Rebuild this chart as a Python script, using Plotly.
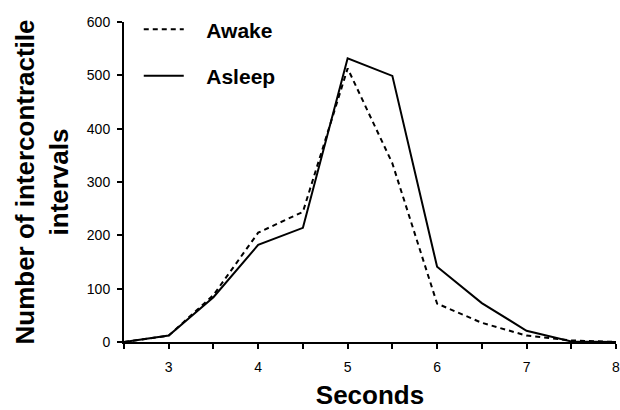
import plotly.graph_objects as go

seconds = [2.5, 3, 3.5, 4, 4.5, 5, 5.5, 6, 6.5, 7, 7.5, 8]
awake = [0, 12, 88, 205, 244, 513, 335, 72, 36, 12, 3, 0]
asleep = [0, 12, 84, 182, 214, 532, 499, 141, 73, 21, 1, 0]

x_tickvals = [2.5, 3, 3.5, 4, 4.5, 5, 5.5, 6, 6.5, 7, 7.5, 8]
x_ticktext = ["", "3", "", "4", "", "5", "", "6", "", "7", "", "8"]
y_tickvals = [0, 100, 200, 300, 400, 500, 600]

FONT = "Liberation Sans, Arial, sans-serif"
PAD = "&nbsp;&nbsp;&nbsp;"

fig = go.Figure()
fig.add_trace(go.Scatter(
    x=seconds, y=awake, mode="lines", name=PAD + "<b>Awake</b>", legendgroup="a",
    line=dict(color="black", width=2, dash="5px,4px"),
))
fig.add_trace(go.Scatter(
    x=seconds, y=asleep, mode="lines", name=PAD + "<b>Asleep</b>", legendgroup="b",
    line=dict(color="black", width=2),
))

fig.update_layout(
    width=620, height=410,
    margin=dict(l=124, r=4, t=22, b=68),
    paper_bgcolor="white", plot_bgcolor="white",
    font=dict(family=FONT, color="black", size=14),
    showlegend=True,
    legend=dict(
        x=0.03, y=1.04, xanchor="left", yanchor="top",
        font=dict(size=21, family=FONT, color="black"),
        itemwidth=40, tracegroupgap=16, bgcolor="rgba(0,0,0,0)",
        traceorder="grouped",
    ),
    xaxis=dict(
        range=[2.5, 8], tickvals=x_tickvals, ticktext=x_ticktext, automargin=False,
        showgrid=False, zeroline=False, showline=True, linecolor="black", linewidth=2,
        ticks="outside", ticklen=5, tickwidth=2, tickcolor="black",
        tickfont=dict(size=14), ticklabeloverflow="allow", ticklabelstandoff=6,
        title=dict(text="<b>Seconds</b>", font=dict(size=26), standoff=20),
    ),
    yaxis=dict(
        range=[0, 600], tickvals=y_tickvals, automargin=False,
        showgrid=False, zeroline=False, showline=True, linecolor="black", linewidth=2,
        ticks="outside", ticklen=5, tickwidth=2, tickcolor="black",
        tickfont=dict(size=14), ticklabelstandoff=4,
        title=dict(text="<b>Number of intercontractile<br>intervals</b>", font=dict(size=26), standoff=11),
    ),
)

fig.write_html("out.html")
